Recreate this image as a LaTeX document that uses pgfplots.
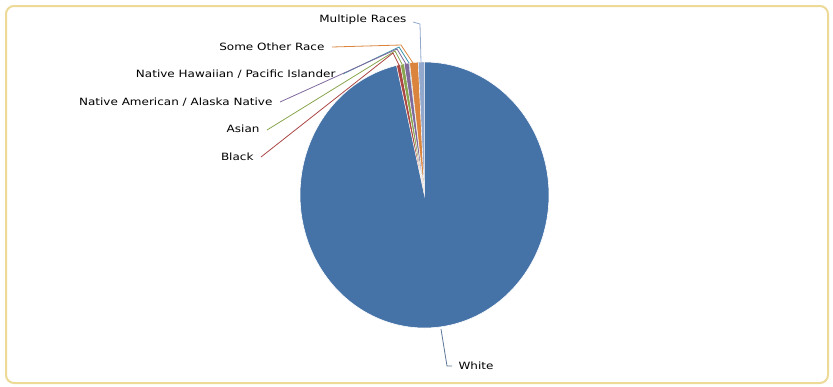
\documentclass[border=0pt]{standalone}
\usepackage{pgfplots}
\pgfplotsset{compat=1.18}
\usepackage{fontspec}
\setmainfont{DejaVu Sans}[FakeStretch=1.2]
\definecolor{cWhite}{HTML}{4572A7}
\definecolor{cBlack}{HTML}{AA4643}
\definecolor{cAsian}{HTML}{89A54E}
\definecolor{cNatAm}{HTML}{80699B}
\definecolor{cNatHaw}{HTML}{3D96AE}
\definecolor{cOther}{HTML}{DB843D}
\definecolor{cMulti}{HTML}{92A8CD}
\definecolor{txt}{HTML}{707070}
\definecolor{frame}{RGB}{236,218,150}
% shares in percent, clockwise from 12 o'clock
\def\vWhite{96.4}
\def\vBlack{0.5}
\def\vAsian{0.5}
\def\vNatAm{0.6}
\def\vNatHaw{0.1}
\def\vOther{1.1}
\def\vMulti{0.8}
\pgfmathsetmacro\sA{0}
\pgfmathsetmacro\sB{\sA+3.6*\vWhite}
\pgfmathsetmacro\sC{\sB+3.6*\vBlack}
\pgfmathsetmacro\sD{\sC+3.6*\vAsian}
\pgfmathsetmacro\sE{\sD+3.6*\vNatAm}
\pgfmathsetmacro\sF{\sE+3.6*\vNatHaw}
\pgfmathsetmacro\sG{\sF+3.6*\vOther}
\pgfmathsetmacro\sH{\sG+3.6*\vMulti}
\def\cx{424.5}\def\cy{195}\def\rx{124.5}\def\ry{133}
\begin{document}
\begin{tikzpicture}
\begin{axis}[
  scale only axis, width=833pt, height=386pt,
  xmin=0, xmax=833, ymin=0, ymax=386, y dir=reverse,
  axis lines=none, clip=false,
  every node/.style={font=\fontsize{12.8}{15}\selectfont, text=txt, inner sep=0pt},
]
\path (axis cs:0,0) rectangle (axis cs:833,386);
\draw[frame, line width=2pt, rounded corners=8pt] (axis cs:6,6) rectangle (axis cs:828,383);
% wedges
\addplot[fill=cWhite, draw=white, line width=0.6pt, domain=\sA:\sB, samples=240, variable=\t]
  ({\cx+\rx*sin(t)}, {\cy-\ry*cos(t)}) -- (axis cs:\cx,\cy) -- cycle;
\addplot[fill=cBlack, draw=white, line width=0.4pt, domain=\sB:\sC, samples=5, variable=\t]
  ({\cx+\rx*sin(t)}, {\cy-\ry*cos(t)}) -- (axis cs:\cx,\cy) -- cycle;
\addplot[fill=cAsian, draw=white, line width=0.4pt, domain=\sC:\sD, samples=5, variable=\t]
  ({\cx+\rx*sin(t)}, {\cy-\ry*cos(t)}) -- (axis cs:\cx,\cy) -- cycle;
\addplot[fill=cNatAm, draw=white, line width=0.4pt, domain=\sD:\sE, samples=5, variable=\t]
  ({\cx+\rx*sin(t)}, {\cy-\ry*cos(t)}) -- (axis cs:\cx,\cy) -- cycle;
\addplot[fill=cNatHaw, draw=white, line width=0.2pt, domain=\sE:\sF, samples=3, variable=\t]
  ({\cx+\rx*sin(t)}, {\cy-\ry*cos(t)}) -- (axis cs:\cx,\cy) -- cycle;
\addplot[fill=cOther, draw=white, line width=0.4pt, domain=\sF:\sG, samples=5, variable=\t]
  ({\cx+\rx*sin(t)}, {\cy-\ry*cos(t)}) -- (axis cs:\cx,\cy) -- cycle;
\addplot[fill=cMulti, draw=white, line width=0.4pt, domain=\sG:\sH, samples=5, variable=\t]
  ({\cx+\rx*sin(t)}, {\cy-\ry*cos(t)}) -- (axis cs:\cx,\cy) -- cycle;
% connectors
\addplot[cMulti, line width=0.8pt] coordinates {(413,22) (420,24) (421,62)};
\addplot[cOther, line width=0.8pt] coordinates {(332,47) (401,45) (413,63)};
\addplot[cNatHaw, line width=0.8pt] coordinates {(343,74) (399,47) (409,63)};
\addplot[cNatAm, line width=0.8pt] coordinates {(280,102) (397,49) (406,64)};
\addplot[cAsian, line width=0.8pt] coordinates {(267,130) (395,51) (402,64)};
\addplot[cBlack, line width=0.8pt] coordinates {(261,157) (393,53) (399,65)};
\addplot[cWhite!60!gray, line width=0.8pt] coordinates {(441,329) (447,366) (452,366)};
% labels
\node[anchor=east] at (axis cs:410,20) {Multiple Races};
\node[anchor=east] at (axis cs:328,47) {Some Other Race};
\node[anchor=east] at (axis cs:339,74) {Native Hawaiian / Pacific Islander};
\node[anchor=east] at (axis cs:276,102) {Native American / Alaska Native};
\node[anchor=east] at (axis cs:263,129) {Asian};
\node[anchor=east] at (axis cs:257,157) {Black};
\node[anchor=west] at (axis cs:455,366) {White};
\end{axis}
\end{tikzpicture}
\end{document}
